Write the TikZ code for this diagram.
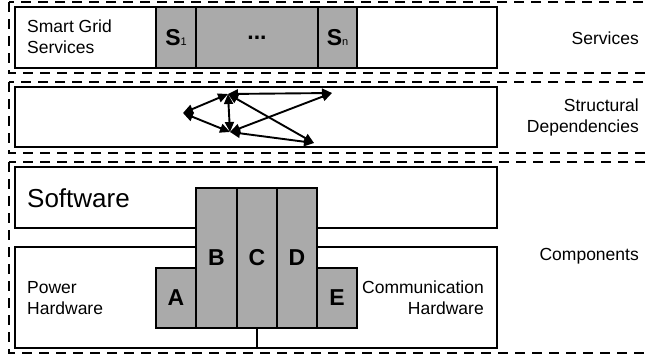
\documentclass[tikz,border=0pt]{standalone}
\usepackage{fontspec}
\setmainfont{Liberation Sans}
\usetikzlibrary{arrows.meta}
\definecolor{boxgray}{RGB}{170,170,170}
\tikzset{
  layer/.style={draw=black, line width=1.8pt, dash pattern=on 10pt off 7pt},
  wbox/.style={draw=black, fill=white, line width=1.7pt, inner sep=0pt},
  gbox/.style={draw=black, fill=boxgray, line width=1.7pt, inner sep=0pt, font=\fontsize{23}{26}\selectfont\bfseries},
  lbl/.style={inner sep=0pt, font=\fontsize{17.5}{21}\selectfont},
  dep/.style={{Triangle[length=10pt,width=9pt]}-{Triangle[length=10pt,width=9pt]}, line width=1.9pt}
}
\begin{document}
\begin{tikzpicture}[x=1pt,y=-1pt]
\useasboundingbox (0,0) rectangle (646,356);
\clip (0,0) rectangle (646,356);
% dashed layers
\draw[layer] (9,2) rectangle (680,73);
\draw[layer] (9,82) rectangle (680,153);
\draw[layer] (9,162) rectangle (680,353);
% services
\node[wbox, minimum width=482pt, minimum height=61pt] (svc) at (256,37.5) {};
\node[gbox, minimum width=40pt, minimum height=61pt] (s1) at (176,37.5) {S{\fontsize{11}{11}\selectfont\mdseries 1}};
\node[gbox, minimum width=122pt, minimum height=61pt] (dots) at (257,37.5) {...};
\node[gbox, minimum width=39pt, minimum height=61pt] (sn) at (337.5,37.5) {S{\fontsize{11}{11}\selectfont\mdseries n}};
\node[lbl, anchor=west, align=left] (sgs) at (27,37) {Smart Grid\\Services};
\node[lbl, anchor=east] (lsvc) at (639,38) {Services};
% structural dependencies
\node[wbox, minimum width=482pt, minimum height=60pt] (struct) at (256,117) {};
\coordinate (L) at (183,113);
\coordinate (T) at (228,94);
\coordinate (M) at (230,132);
\coordinate (R1) at (332,93);
\coordinate (R2) at (314,143);
\draw[dep] (L) -- (T);
\draw[dep] (L) -- (M);
\draw[dep] (T) -- (M);
\draw[dep] (T) -- (R1);
\draw[dep] (R1) -- (M);
\draw[dep] (T) -- (R2);
\draw[dep] (M) -- (R2);
\node[lbl, anchor=east, align=right] (lstruct) at (639,117) {Structural\\Dependencies};
% components
\node[wbox, minimum width=482pt, minimum height=61pt] (sw) at (256,197.5) {};
\node[wbox, minimum width=482pt, minimum height=101pt] (hw) at (256,297.5) {};
\node[gbox, minimum width=40pt, minimum height=60pt] (A) at (176,298) {A};
\node[gbox, minimum width=41pt, minimum height=140pt] (B) at (216.5,258) {B};
\node[gbox, minimum width=40pt, minimum height=140pt] (C) at (257,258) {C};
\node[gbox, minimum width=40pt, minimum height=140pt] (D) at (297,258) {D};
\node[gbox, minimum width=40pt, minimum height=60pt] (E) at (337,298) {E};
\draw[line width=1.7pt] (C.south) -- (C.south |- hw.south);
\node[inner sep=0pt, anchor=west, font=\fontsize{26}{30}\selectfont] (swl) at (27,198) {Software};
\node[lbl, anchor=west, align=left] (pwr) at (27,298) {Power\\Hardware};
\node[lbl, anchor=east, align=right] (com) at (484,298) {Communication\\Hardware};
\node[lbl, anchor=east] (lcomp) at (639,256) {Components};
\end{tikzpicture}
\end{document}
